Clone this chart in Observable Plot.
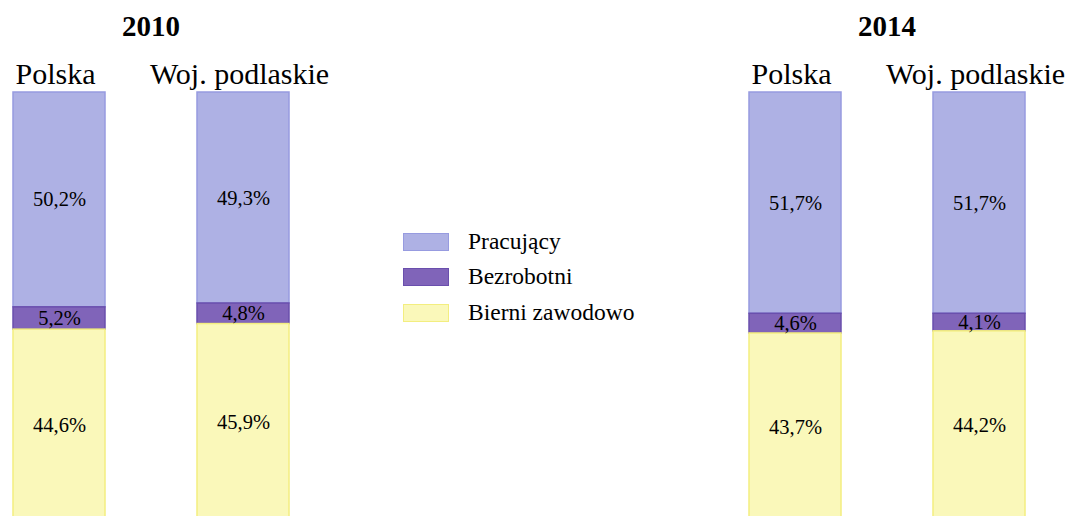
<!DOCTYPE html>
<html><head><meta charset="utf-8">
<script src="https://cdn.jsdelivr.net/npm/d3@7"></script>
<script src="https://cdn.jsdelivr.net/npm/@observablehq/plot@0.6"></script>
<style>
body{margin:0;background:#fff;font-family:"Liberation Serif","Times New Roman",serif;}
#wrap{position:relative;width:1069px;height:516px;overflow:hidden;background:#fff;}
.year{position:absolute;top:12px;font-weight:bold;font-size:29px;line-height:1;transform:translateX(-50%);white-space:nowrap;}
#legend{position:absolute;left:403px;top:223.75px;}
.row{display:flex;align-items:center;height:35.5px;}
.sw{width:44px;height:16px;border:1.5px solid;margin-right:19px;}
.lab{font-size:23.5px;line-height:1;}
</style></head><body><div id="wrap"></div>
<script>
const years = ["2010", "2014"];
const regions = ["Polska", "Woj. podlaskie"];
const series = ["Pracujący", "Bezrobotni", "Bierni zawodowo"];
const fills = ["#aeb1e4", "#8064b9", "#faf8ba"];
const strokes = ["#979be0", "#6a4fad", "#f3ee80"];
// order: 2010 Polska, 2010 Woj. podlaskie, 2014 Polska, 2014 Woj. podlaskie
const pracujacy = [50.2, 49.3, 51.7, 51.7];
const bezrobotni = [5.2, 4.8, 4.6, 4.1];
const bierni = [44.6, 45.9, 43.7, 44.2];

const values = [pracujacy, bezrobotni, bierni];
const slots = [years[0] + "|" + regions[0], years[0] + "|" + regions[1], "gap1", "gap2",
               years[1] + "|" + regions[0], years[1] + "|" + regions[1]];
const barSlots = [slots[0], slots[1], slots[4], slots[5]];

const rows = [];
barSlots.forEach((slot, k) => {
  series.forEach((s, si) => {
    rows.push({slot, series: s, value: values[si][k], fill: fills[si], stroke: strokes[si]});
  });
});
const labelRows = barSlots.map(slot => ({slot, region: slot.split("|")[1]}));
const stackOrder = series.slice().reverse();
const fmt = v => v.toFixed(1).replace(".", ",") + "%";

const plot = Plot.plot({
  width: 1069,
  height: 516,
  marginTop: 92,
  marginBottom: -4,
  marginLeft: 11,
  marginRight: 43,
  x: {domain: slots, paddingInner: 0.5, paddingOuter: 0, axis: null},
  y: {domain: [0, 100], axis: null},
  color: {type: "identity"},
  style: {fontFamily: "'Liberation Serif','Times New Roman',serif", background: "white", overflow: "hidden"},
  marks: [
    Plot.barY(rows, Plot.stackY({x: "slot", y: "value", z: "series", order: stackOrder,
      fill: "fill", stroke: "stroke", strokeWidth: 1.5})),
    Plot.text(rows, Plot.stackY({x: "slot", y: "value", z: "series", order: stackOrder,
      text: d => fmt(d.value), fontSize: 20.5, fill: "black"})),
    Plot.text(labelRows, {x: "slot", text: "region", frameAnchor: "top", lineAnchor: "bottom",
      dy: -9, dx: -4, fontSize: 30, fill: "black"})
  ]
});
const wrap = document.getElementById("wrap");
wrap.appendChild(plot);

const xs = plot.scale("x");
const bw = xs.bandwidth;
years.forEach((yr, i) => {
  const a = xs.apply(slots[i === 0 ? 0 : 4]);
  const b = xs.apply(slots[i === 0 ? 1 : 5]);
  const c = (a + b + bw) / 2;
  const div = document.createElement("div");
  div.className = "year";
  div.style.left = c + "px";
  div.textContent = yr;
  wrap.appendChild(div);
});

const legend = document.createElement("div");
legend.id = "legend";
series.forEach((s, i) => {
  const row = document.createElement("div");
  row.className = "row";
  const sw = document.createElement("div");
  sw.className = "sw";
  sw.style.background = fills[i];
  sw.style.borderColor = strokes[i];
  const lab = document.createElement("span");
  lab.className = "lab";
  lab.textContent = s;
  row.appendChild(sw);
  row.appendChild(lab);
  legend.appendChild(row);
});
wrap.appendChild(legend);
</script>
</body></html>
